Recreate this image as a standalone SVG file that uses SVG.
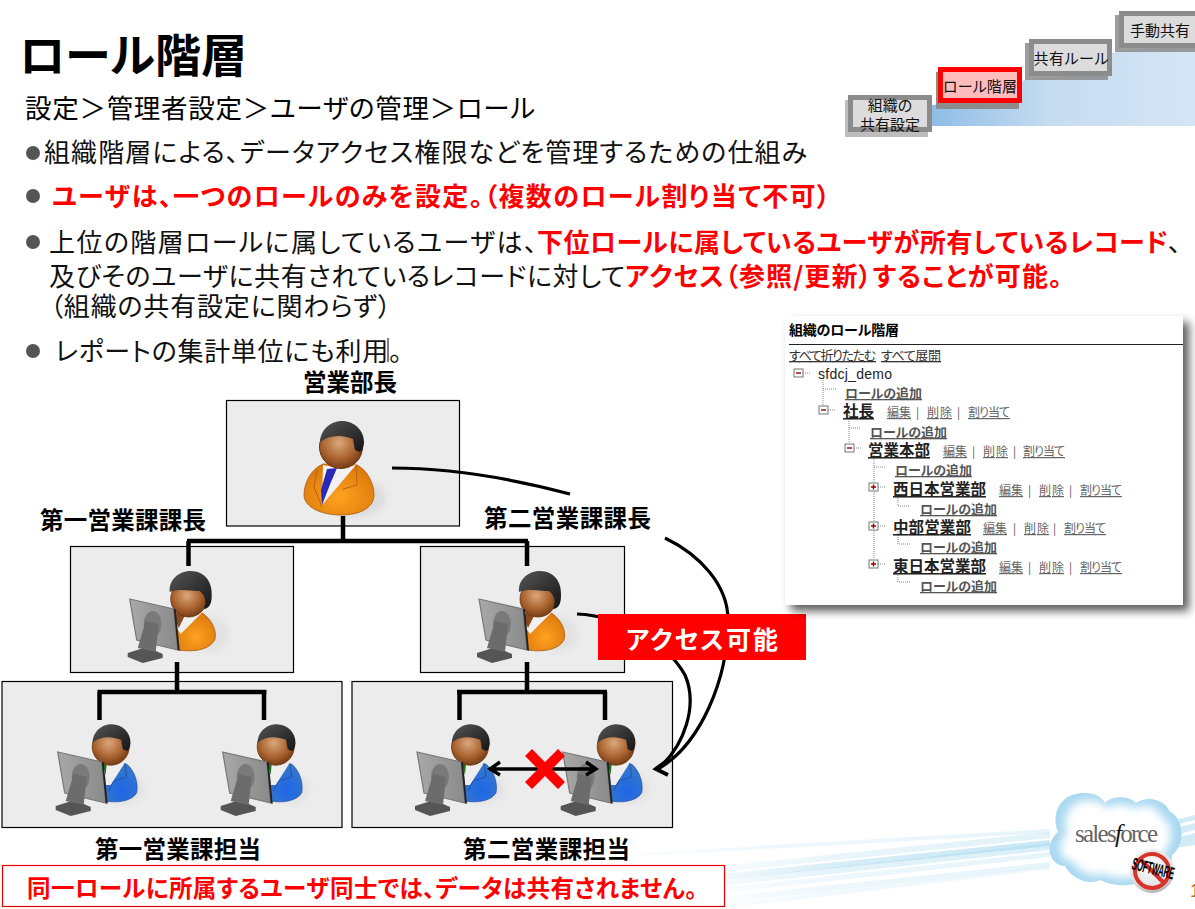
<svg xmlns="http://www.w3.org/2000/svg" width="1195" height="909" viewBox="0 0 1195 909">
<style>
text{font-family:"Noto Sans CJK JP","Liberation Sans",sans-serif;fill:#000;font-feature-settings:"palt"}
.b{font-size:26px;fill:#111}
.r{font-size:26px;fill:#f00;font-weight:700}
.lab{font-size:23.5px;font-weight:700}
.box{fill:#ececec;stroke:#000;stroke-width:1.2}
.tree{fill:none;stroke:#000;stroke-width:4.5}
.cur{fill:none;stroke:#000;stroke-width:3.2}
.arrow{fill:none;stroke:#000;stroke-width:3.4}
.head{fill:none;stroke:#000;stroke-width:4}
.step{font-size:15px;text-anchor:middle;fill:#111}
.add{font-size:13px;font-weight:700;fill:#555;text-decoration:underline}
.nm{font-size:15.5px;font-weight:700;fill:#222;text-decoration:underline}
.act{font-size:12px;fill:#666;text-decoration:underline}
.sep{font-size:11.5px;fill:#555}
.dot{fill:none;stroke:#888;stroke-width:1;stroke-dasharray:1 1}
.ico{fill:#fff;stroke:#777;stroke-width:1}
.ism{stroke:#900;stroke-width:1.4;fill:none}
.gb{fill:#8c8c8c}
.sw{fill:url(#swg)}
</style>
<defs>
<linearGradient id="wave" x1="0" x2="1" y1="0" y2="0"><stop offset="0" stop-color="#8fbde6"/><stop offset=".45" stop-color="#c6dcf1"/><stop offset="1" stop-color="#d5e5f5"/></linearGradient>
<linearGradient id="swg" x1="0" x2="1" y1="0" y2="0"><stop offset="0" stop-color="#a6d8ee" stop-opacity=".15"/><stop offset=".35" stop-color="#a6d8ee" stop-opacity=".45"/><stop offset="1" stop-color="#a6d8ee" stop-opacity=".6"/></linearGradient>
<radialGradient id="face" cx=".45" cy=".4" r=".65"><stop offset="0" stop-color="#dba77c"/><stop offset=".6" stop-color="#a8622e"/><stop offset="1" stop-color="#6d3412"/></radialGradient>
<linearGradient id="hair" x1="0" x2="1" y1="0" y2="1"><stop offset="0" stop-color="#555"/><stop offset="1" stop-color="#151515"/></linearGradient>
<radialGradient id="org" cx=".5" cy=".65" r=".7"><stop offset="0" stop-color="#ffa220"/><stop offset="1" stop-color="#d87408"/></radialGradient>
<radialGradient id="blu" cx=".55" cy=".7" r=".75"><stop offset="0" stop-color="#1f66e8"/><stop offset="1" stop-color="#3a7ac4"/></radialGradient>
<linearGradient id="mon" x1="0" x2="1" y1="0" y2="0"><stop offset="0" stop-color="#a8a8a8"/><stop offset="1" stop-color="#8a8a8a"/></linearGradient>
<radialGradient id="bdg" cx=".45" cy=".35" r=".7"><stop offset="0" stop-color="#fff"/><stop offset=".75" stop-color="#e2e2e2"/><stop offset="1" stop-color="#9a9a9a"/></radialGradient>
<filter id="sh" x="-5%" y="-5%" width="112%" height="112%"><feGaussianBlur in="SourceAlpha" stdDeviation="5"/><feOffset dx="6" dy="6"/><feComponentTransfer><feFuncA type="linear" slope=".65"/></feComponentTransfer><feMerge><feMergeNode/><feMergeNode in="SourceGraphic"/></feMerge></filter>
<filter id="bl"><feGaussianBlur stdDeviation="5"/></filter>
<filter id="bs"><feGaussianBlur stdDeviation="3"/></filter>
<g id="man-head">
<circle cx="0" cy="2" r="21.5" fill="url(#face)" stroke="#6d3412" stroke-width="1"/>
<path d="M-21,-3C-20,-18-8,-24 1,-24C14,-24 23,-14 23,-3C23,2 21,6 19,7L14,5L12,-6C0,-11-12,-10-21,-3Z" fill="url(#hair)"/>
</g>
<g id="manager">
<ellipse cx="13" cy="53" rx="32" ry="19" fill="#dcdcdc" filter="url(#bs)"/>
<path d="M-18,19C-30,24-37,38-37,50C-37,62-20,70 0,70C20,70 33,62 33,50C33,38 26,25 16,20Z" fill="url(#org)" stroke="#a85a10" stroke-width=".8"/>
<path d="M-18,20L-2,23L15,20L-19,60Z" fill="#f2f2f2"/>
<path d="M-14,24L-4,23L-10,37L-19,60L-20,45Z" fill="#2a2ab8"/>
<path d="M-24,24L-27,42L-19,62M15,20L16,40L2,44" fill="none" stroke="#b8640e" stroke-width="1"/>
<use href="#man-head"/>
</g>
<g id="monitor">
<path d="M-55,61L-36,55L-20,62L-20,66L-40,71L-55,65Z" fill="#555"/>
<path d="M-53,7L-9,17L-5,58L-46,48Z" fill="url(#mon)" stroke="#777" stroke-width="1.2"/>
<path d="M-9,17L-7,17L-3,59L-5,58Z" fill="#222"/>
<ellipse cx="-30" cy="32" rx="9" ry="13" fill="#7a7a7a"/>
<path d="M-37,29L-24,32L-27,60L-45,56Z" fill="#6c6c6c"/>
</g>
<g id="worker">
<ellipse cx="12" cy="44" rx="22" ry="15" fill="#e2e2e2" filter="url(#bs)"/>
<path d="M0,19C-4,26-8,40-6,56C5,58 20,57 26,48C28,38 24,26 16,19Z" fill="url(#blu)" stroke="#1d4a9a" stroke-width=".6"/>
<path d="M-7,19L14,18L0,40L-5,40Z" fill="#eee"/>
<path d="M-8,19L-4,19L-5,30Z" fill="#1a7a1a"/>
<path d="M14,18L16,32L3,36L-2,46" fill="none" stroke="#1d4a9a" stroke-width=".8"/>
<g transform="scale(.86)"><use href="#man-head"/></g>
<use href="#monitor"/>
</g>
<g id="woman">
<ellipse cx="18" cy="42" rx="20" ry="18" fill="#e2e2e2" filter="url(#bs)"/>
<path d="M-14,22C-14,36-12,50-12,58C0,60 18,59 24,48C27,38 20,26 10,20Z" fill="url(#org)" stroke="#a85a10" stroke-width=".8"/>
<path d="M-10,21L12,20L-10,42L-14,36Z" fill="#f0f0f0"/>
<path d="M-14,20L-4,20L-12,36L-16,26Z" fill="#8a4a1f"/>
<circle cx="-2" cy="7" r="18" fill="url(#face)" stroke="#6d3412" stroke-width=".8"/>
<path d="M-21,0C-22,-14-10,-21 0,-21C14,-21 22,-10 21,4C21,12 18,17 13,17C16,10 15,4 9,-1C0,-1-12,-4-21,0Z" fill="url(#hair)"/>
<use href="#monitor" transform="translate(-8,0)"/>
</g>
</defs>
<rect width="1195" height="909" fill="#fff"/>

<g id="swoosh">
<path class="sw" d="M640,853L1050,829L1050,833L640,856Z" opacity=".45"/>
<path class="sw" d="M720,866L1050,832L1050,838L720,872Z" opacity=".55"/>
<path class="sw" d="M720,874L1050,840L1050,846L720,880Z"/>
<path class="sw" d="M720,880L1050,843L1050,850L720,886Z" opacity=".7"/>
<path class="sw" d="M720,888L1050,852L1050,857L720,893Z" opacity=".45"/>
<path class="sw" d="M720,897L1050,862L1050,867L720,903Z" opacity=".45"/>
<path class="sw" d="M720,904L1050,866L1050,869L720,909Z" opacity=".35"/>
<path d="M1175,820L1195,815V820L1175,825Z M1175,828L1195,823V830L1175,835Z M1175,838L1195,833V845L1175,848Z" fill="#bfe3f3" opacity=".7"/>
</g>

<g id="title"><text x="19" y="72" font-size="46" font-weight="700" textLength="228">ロール階層</text></g>
<g id="steps">
<path d="M932,126V105C945,104 960,103 1000,101L1024,80C1040,78 1060,76 1106,74L1112,53C1125,50 1140,48 1195,48V126Z" fill="url(#wave)"/>
<g id="step-org"><rect x="845" y="100" width="83" height="37" fill="#bdbdbd"/><rect x="850.500" y="97.500" width="79" height="32" fill="#dcdcdc" stroke="#8c8c8c" stroke-width="5"/><text class="step" x="890" y="111">組織の</text><text class="step" x="890" y="130">共有設定</text></g>
<g id="step-role"><rect x="936" y="72" width="83" height="37" class="gb"/><rect x="940.500" y="69.500" width="79" height="31" fill="#ffbcbc" stroke="#f00" stroke-width="5"/><text class="step" x="980" y="92" textLength="74">ロール階層</text></g>
<g id="step-rule"><rect x="1025" y="43" width="83" height="37" class="gb" opacity=".85"/><rect x="1031.500" y="41.500" width="78" height="32" fill="#dcdcdc" stroke="#8c8c8c" stroke-width="5"/><text class="step" x="1071" y="64" textLength="75">共有ルール</text></g>
<g id="step-manual"><rect x="1115" y="15" width="80" height="37" class="gb" opacity=".85"/><rect x="1121.500" y="13.500" width="80" height="32" fill="#dcdcdc" stroke="#8c8c8c" stroke-width="5"/><text class="step" x="1160" y="36">手動共有</text></g>
</g>

<g id="bullets">
<text x="25" y="118" font-size="26.500" fill="#111" textLength="510">設定＞管理者設定＞ユーザの管理＞ロール</text>
<circle cx="33" cy="153" r="7" fill="#555"/>
<text class="b" x="44" y="162" textLength="763">組織階層による、データアクセス権限などを管理するための仕組み</text>
<circle cx="33" cy="196" r="7" fill="#555"/>
<text class="r" x="52" y="206" textLength="778">ユーザは、一つのロールのみを設定。（複数のロール割り当て不可）</text>
<circle cx="33" cy="242" r="7" fill="#555"/>
<text class="b" y="252"><tspan x="49" textLength="488">上位の階層ロールに属しているユーザは、</tspan><tspan x="537" style="fill:#f00;font-weight:700" textLength="631">下位ロールに属しているユーザが所有しているレコード</tspan><tspan x="1168" textLength="14">、</tspan></text>
<text class="b" y="286"><tspan x="49" textLength="576">及びそのユーザに共有されているレコードに対して</tspan><tspan x="625" style="fill:#f00;font-weight:700" textLength="437">アクセス（参照/更新）することが可能。</tspan></text>
<text class="b" x="50" y="316" textLength="341">（組織の共有設定に関わらず）</text>
<circle cx="33" cy="351" r="7" fill="#555"/>
<text class="b" x="55" y="361" textLength="347">レポートの集計単位にも利用。</text>
<path d="M388,338V362" stroke="#000" stroke-width="1"/>
</g>

<g id="node-head"><rect class="box" x="226.500" y="400.500" width="233" height="125.500"/><use href="#manager" x="341" y="445"/><text class="lab" x="303" y="391" textLength="94">営業部長</text></g>
<g id="node-chief1"><rect class="box" x="70.500" y="546.500" width="223" height="126"/><use href="#woman" x="190.700" y="592"/><text class="lab" x="40" y="529" textLength="166">第一営業課課長</text></g>
<g id="node-chief2"><rect class="box" x="420.500" y="546.500" width="204" height="126"/><use href="#woman" x="540" y="592"/><text class="lab" x="484" y="527" textLength="167">第二営業課課長</text></g>
<g id="node-staff1"><rect class="box" x="2" y="681.500" width="340" height="146"/><use href="#worker" x="110.700" y="745"/><use href="#worker" x="275.700" y="745"/><text class="lab" x="95" y="858" textLength="166">第一営業課担当</text></g>
<g id="node-staff2"><rect class="box" x="352" y="681.500" width="320.500" height="146"/><use href="#worker" x="470" y="745"/><use href="#worker" x="615.700" y="745"/><text class="lab" x="463" y="858" textLength="167">第二営業課担当</text></g>

<g id="connectors">
<path class="tree" d="M343,516V541M187,541H528M188.500,541V566M527,541V566"/>
<path class="tree" d="M177,662V692M97.500,692H266.500M99.500,692V720M264,692V720"/>
<path class="tree" d="M527,662V692M457,692H607M459.500,692V720M605,692V720"/>
<path class="cur" d="M392,468C450,468 510,478 570,494M665,538C700,555 728,585 728,620C728,680 700,745 658,769"/>
<path class="cur" d="M577,614C620,616 665,640 685,675C698,705 685,745 658,769"/>
<path class="head" d="M668,760L656,769L668,775"/>
<path class="arrow" d="M490,769H596M500,762L490,769L500,775M586,762L596,769L586,775"/>
<path d="M532,749L545,762L558,749L565,756L552,769L565,782L558,789L545,776L532,789L525,782L538,769L525,756Z" fill="#f00"/>
</g>

<g id="access-label"><rect x="598" y="614" width="208" height="46" fill="#f00"/><text x="626" y="649" font-size="25" font-weight="700" style="fill:#fff" textLength="152">アクセス可能</text></g>

<g id="role-tree">
<rect x="785" y="316" width="398" height="289" fill="#fff" filter="url(#sh)"/>
<text x="789" y="335" font-size="14" font-weight="700" textLength="110">組織のロール階層</text>
<path d="M789,344.500H1183" stroke="#222" stroke-width="1.2"/>
<text class="act" style="fill:#333;font-size:13px" x="789" y="360" textLength="87">すべて折りたたむ</text>
<text class="act" style="fill:#333;font-size:13px" x="881" y="360" textLength="60">すべて展開</text>
<path class="dot" d="M803,373H810M823,378V405M823,389H836M828,410H835M849,415V443M849,428H860M854,448H861M874,453V482M874,467H885M878,487H885M874,492V521M898,492V506H910M878,526H885M874,531V559M898,531V544H910M878,564H885M898,569V582H910"/>
<g><rect class="ico" x="794" y="369" width="9" height="8"/><path class="ism" d="M796,373H801"/><rect class="ico" x="819" y="406" width="9" height="8"/><path class="ism" d="M821,410H826"/><rect class="ico" x="845" y="444" width="9" height="8"/><path class="ism" d="M847,448H852"/>
<rect class="ico" x="869" y="483" width="9" height="8"/><path class="ism" d="M871,487H876M873.500,484.500V489.500"/><rect class="ico" x="869" y="522" width="9" height="8"/><path class="ism" d="M871,526H876M873.500,523.500V528.500"/><rect class="ico" x="869" y="560" width="9" height="8"/><path class="ism" d="M871,564H876M873.500,561.500V566.500"/></g>
<text x="818" y="379" font-size="14" style="fill:#222;font-family:'Liberation Sans',sans-serif" textLength="74">sfdcj_demo</text>
<text class="add" x="845" y="398" textLength="77">ロールの追加</text>
<text class="nm" x="843" y="417" textLength="31">社長</text><text class="act" x="887" y="417" textLength="24">編集</text><text class="sep" x="916" y="417">|</text><text class="act" x="927" y="417" textLength="25">削除</text><text class="sep" x="957" y="417">|</text><text class="act" x="968" y="417" textLength="42">割り当て</text>
<text class="add" x="870" y="437" textLength="77">ロールの追加</text>
<text class="nm" x="868" y="456" textLength="62">営業本部</text><text class="act" x="943" y="456" textLength="24">編集</text><text class="sep" x="972" y="456">|</text><text class="act" x="983" y="456" textLength="25">削除</text><text class="sep" x="1013" y="456">|</text><text class="act" x="1023" y="456" textLength="42">割り当て</text>
<text class="add" x="895" y="475" textLength="77">ロールの追加</text>
<text class="nm" x="893" y="495" textLength="93">西日本営業部</text><text class="act" x="999" y="495" textLength="24">編集</text><text class="sep" x="1028" y="495">|</text><text class="act" x="1039" y="495" textLength="25">削除</text><text class="sep" x="1069" y="495">|</text><text class="act" x="1080" y="495" textLength="42">割り当て</text>
<text class="add" x="920" y="514" textLength="77">ロールの追加</text>
<text class="nm" x="893" y="533" textLength="78">中部営業部</text><text class="act" x="983" y="533" textLength="24">編集</text><text class="sep" x="1013" y="533">|</text><text class="act" x="1024" y="533" textLength="25">削除</text><text class="sep" x="1053" y="533">|</text><text class="act" x="1064" y="533" textLength="42">割り当て</text>
<text class="add" x="920" y="552" textLength="77">ロールの追加</text>
<text class="nm" x="893" y="572" textLength="93">東日本営業部</text><text class="act" x="999" y="572" textLength="24">編集</text><text class="sep" x="1028" y="572">|</text><text class="act" x="1039" y="572" textLength="25">削除</text><text class="sep" x="1069" y="572">|</text><text class="act" x="1080" y="572" textLength="42">割り当て</text>
<text class="add" x="920" y="591" textLength="77">ロールの追加</text>
</g>

<g id="note"><rect x="2.500" y="865.500" width="722" height="41" fill="#fff" stroke="#e00" stroke-width="1.200"/><text x="27" y="897" font-size="23.500" font-weight="700" style="fill:#f00" textLength="670">同一ロールに所属するユーザ同士では、データは共有されません。</text></g>

<g id="logo">
<path d="M1065,866C1050,866 1043,845 1058,832C1050,812 1062,792 1085,793C1095,793 1102,797 1105,803C1112,796 1128,795 1136,803C1148,795 1165,800 1170,812C1184,818 1186,845 1172,855C1172,868 1160,875 1150,872C1145,885 1120,890 1100,880C1090,885 1072,880 1065,866Z" fill="#a9d8f1"/>
<path d="M1065,866C1050,866 1043,845 1058,832C1050,812 1062,792 1085,793C1095,793 1102,797 1105,803C1112,796 1128,795 1136,803C1148,795 1165,800 1170,812C1184,818 1186,845 1172,855C1172,868 1160,875 1150,872C1145,885 1120,890 1100,880C1090,885 1072,880 1065,866Z" fill="#fff" filter="url(#bl)" transform="translate(1116,840) scale(.84) translate(-1116,-840)"/>
<text x="1075" y="842" font-size="25" style="font-family:'Liberation Serif',serif;fill:#666" textLength="83">sales<tspan font-style="italic" style="fill:#111">f</tspan>orce</text>
<circle cx="1152" cy="871" r="22" fill="url(#bdg)"/>
<circle cx="1152" cy="871" r="17" fill="none" stroke="#d8332a" stroke-width="4"/>
<path d="M1140,859L1164,883" stroke="#d8332a" stroke-width="4"/>
<text x="0" y="0" font-size="17" font-weight="900" transform="translate(1131,869) rotate(14)" style="font-family:'Liberation Sans',sans-serif" textLength="43" lengthAdjust="spacingAndGlyphs">SOFTWARE</text>
<text x="1190" y="897" font-size="18" style="font-family:'Liberation Sans',sans-serif;fill:#b0722a">1</text>
</g>
</svg>
